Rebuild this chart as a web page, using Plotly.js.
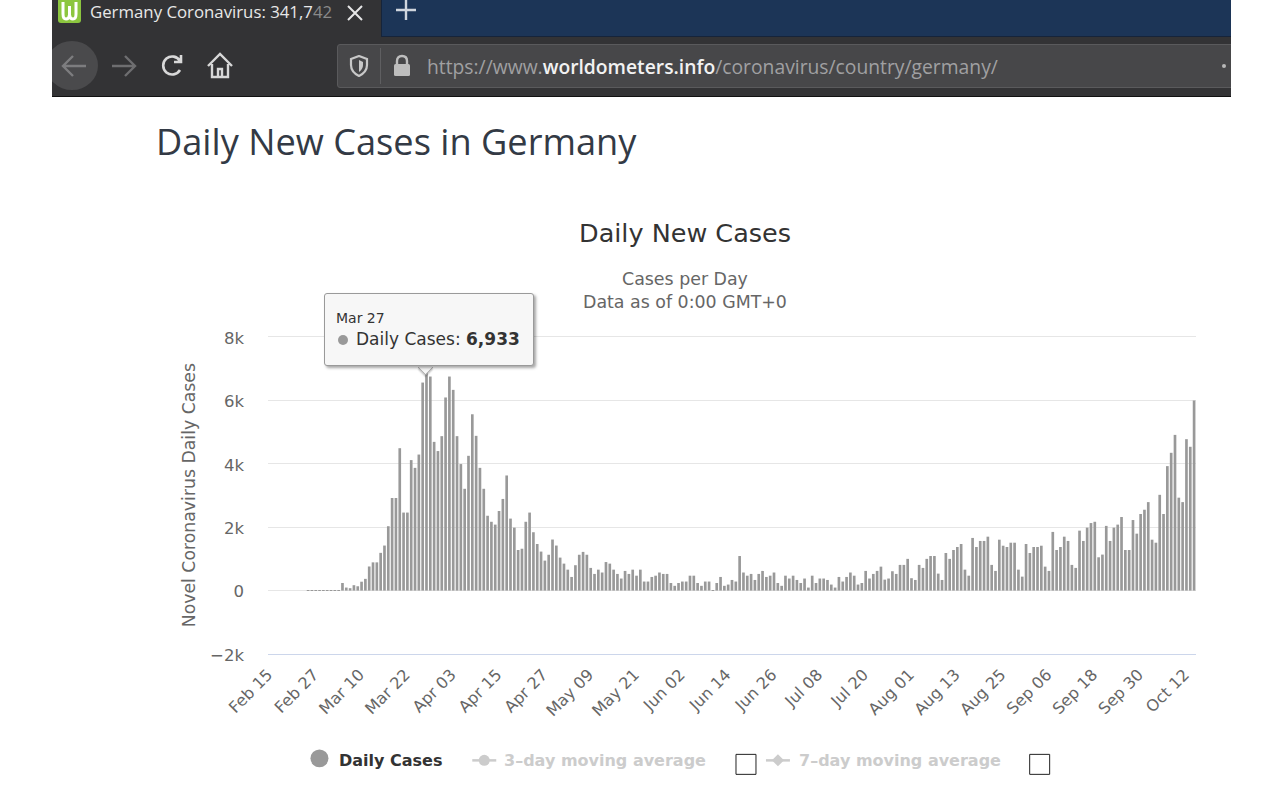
<!DOCTYPE html>
<html>
<head>
<meta charset="utf-8">
<script src="https://cdn.plot.ly/plotly-3.0.1.min.js"></script>
<style>
html,body{margin:0;padding:0;background:#fff;overflow:hidden;width:1284px;height:792px}
#chart{position:absolute;left:0;top:0;width:1284px;height:792px}
.abs{position:absolute}
#chrome{position:absolute;left:52px;top:0;width:1179px;height:97px;background:#333335;overflow:hidden;border-bottom:1px solid #111;box-sizing:border-box}
#newtab{position:absolute;left:329px;top:0;width:850px;height:36px;background:#1c3557;border-bottom:1px solid #16243a;border-left:1px solid #16243a}
#urlbar{position:absolute;left:285px;top:44px;width:900px;height:44px;background:#474749;border:1px solid #5a5a5c;border-radius:3px;box-sizing:border-box}
#tabtext{position:absolute;left:38px;top:0;height:24px;font:16.8px/24px "Open Sans",sans-serif;color:#e8e8e8;white-space:nowrap}
#tabtext .fade{color:#8a8a8a}
#url{position:absolute;left:375px;top:53px;font:19.3px/27px "Open Sans",sans-serif;color:#a0a0a2;white-space:nowrap}
#url b{font-weight:600;color:#f2f2f2}
#heading{position:absolute;left:156px;top:116px;font:36.2px/50px "Open Sans",sans-serif;color:#333a45;white-space:nowrap}
#tip{position:absolute;left:324px;top:293px;width:208px;height:71px;background:#f7f7f7;border:1px solid #9a9a9a;border-radius:3px;box-shadow:2px 2px 3px rgba(0,0,0,.35);font-family:"DejaVu Sans",sans-serif;color:#333}
#caret{position:absolute;left:418px;top:360px;width:14px;height:14px;background:#f7f7f7;transform:rotate(45deg) scale(.72,.72);border-right:1px solid #9a9a9a;border-bottom:1px solid #9a9a9a;box-shadow:2px 2px 2px rgba(0,0,0,.2)}
#tipdate{position:absolute;left:11px;top:15px;font-size:14px;line-height:18px}
#tipdot{position:absolute;left:13px;top:41px;width:10px;height:10px;border-radius:50%;background:#999}
#tipval{position:absolute;left:31px;top:34px;font-size:17px;line-height:22px;white-space:nowrap}
</style>
</head>
<body>
<div id="chart"></div>
<div id="heading">Daily New Cases in Germany</div>
<div id="caret"></div>
<div id="tip"><div id="tipdate"></div><div id="tipdot"></div><div id="tipval"></div></div>

<div id="chrome">
  <div id="newtab"></div>
  <div class="abs" style="left:6px;top:0;width:23px;height:23px;background:#8cc63f;border-radius:0 0 3px 3px"></div>
  <svg class="abs" style="left:6px;top:0" width="23" height="23"><path d="M5 2 V14 Q5 19 8 19 Q11 19 11.5 15 V6 M11.5 15 Q12 19 15 19 Q18 19 18 14 V2" fill="none" stroke="#fff" stroke-width="3"/></svg>
  <div id="tabtext">Germany Coronavirus: 341,7<span class="fade">42</span></div>
  <svg class="abs" style="left:294px;top:4px" width="18" height="18"><path d="M2 2 L16 16 M16 2 L2 16" stroke="#e6e6e6" stroke-width="2"/></svg>
  <svg class="abs" style="left:342px;top:0" width="24" height="22"><path d="M12 0 V20 M2 10 H22" stroke="#d0d6de" stroke-width="2.4"/></svg>
  <div class="abs" style="left:-6px;top:41px;width:52px;height:49px;border-radius:50%;background:#4a4a4c"></div>
  <svg class="abs" style="left:8px;top:53px" width="28" height="26"><path d="M26 13 H3 M13 3 L3 13 L13 23" fill="none" stroke="#7d7d7f" stroke-width="2.4"/></svg>
  <svg class="abs" style="left:59px;top:53px" width="28" height="26"><path d="M1 13 H24 M14 3 L24 13 L14 23" fill="none" stroke="#6e6e70" stroke-width="2.4"/></svg>
  <svg class="abs" style="left:108px;top:53px" width="26" height="26"><path d="M20 17 A9 9 0 1 1 20 8 M21 2 V9 H14" fill="none" stroke="#d8d8d8" stroke-width="2.6"/></svg>
  <svg class="abs" style="left:155px;top:52px" width="26" height="28"><path d="M1 14 L13 2 L25 14 M5 12 V25 H21 V12 M11 25 V17 H15 V25" fill="none" stroke="#d8d8d8" stroke-width="2.4"/></svg>
  <div id="urlbar"></div>
  <svg class="abs" style="left:297px;top:55px" width="20" height="22"><path d="M10 1 L18 4 V10 Q18 17 10 21 Q2 17 2 10 V4 Z" fill="none" stroke="#c8c8c8" stroke-width="2.2"/><path d="M10 5 L14 7 V10 Q14 14 10 17 Z" fill="#c8c8c8"/></svg>
  <div class="abs" style="left:328px;top:48px;width:1px;height:36px;background:#5f5f61"></div>
  <svg class="abs" style="left:340px;top:54px" width="20" height="24"><path d="M5 10 V7 Q5 2 10 2 Q15 2 15 7 V10" fill="none" stroke="#bdbdbd" stroke-width="2.4"/><rect x="2" y="10" width="16" height="12" rx="1.5" fill="#bdbdbd"/></svg>
  <div id="url">https://www.<b>worldometers.info</b>/coronavirus/country/germany/</div>
  <div class="abs" style="left:1170px;top:64px;width:4px;height:4px;border-radius:50%;background:#b8b8b8"></div>
</div>

<script>
const monthNames = ['Feb','Mar','Apr','May','Jun','Jul','Aug','Sep','Oct'];
const monthFirst = [15,1,1,1,1,1,1,1,1];
const monthLast  = [29,31,30,31,30,31,31,30,14];
const categories = [];
monthNames.forEach((m,k)=>{for(let d=monthFirst[k];d<=monthLast[k];d++)categories.push(m+' '+String(d).padStart(2,'0'));});

const dailyCases = [
0,0,0,0,0,0,0,0,0,0,
2,1,10,4,6,8,5,12,15,
240,95,75,170,136,280,370,760,890,890,
1190,1420,2030,2920,2920,4490,2460,2460,4115,3870,
4290,6560,6933,6750,4690,4400,4870,6090,6750,6330,
4870,3990,3210,4250,5560,4880,3870,3210,2360,2170,
2080,2510,2890,3630,2270,1985,1280,1320,2170,2460,
1840,1470,1230,945,1130,1610,1420,1040,850,660,
430,800,1130,1220,1130,715,525,660,570,900,
850,660,525,380,620,525,660,470,660,285,
285,430,470,570,525,525,240,150,240,285,
285,470,470,240,150,285,285,10,240,430,
150,190,335,285,1090,570,470,525,335,525,
620,430,470,570,240,150,470,380,470,335,
240,380,95,470,240,380,380,335,190,95,
430,285,430,570,470,190,240,620,380,525,
620,755,345,380,610,525,810,810,1000,390,
335,810,715,1000,1090,1090,535,335,1185,1000,
1280,1375,1470,660,470,1660,1375,1565,1565,1700,
810,620,1605,1415,1375,1510,1510,660,440,1470,
1185,1375,1375,1415,755,620,1850,1280,1375,1700,
1565,810,715,1890,1565,1985,2130,2170,1050,1135,
2040,1565,1985,2080,2320,1280,1280,2225,1795,2415,
2550,2790,1605,1510,3020,2415,3925,4345,4910,2930,
2790,4775,4535,5995];

const xTickLabels = ['Feb 15','Feb 27','Mar 10','Mar 22','Apr 03','Apr 15','Apr 27','May 09','May 21','Jun 02','Jun 14','Jun 26','Jul 08','Jul 20','Aug 01','Aug 13','Aug 25','Sep 06','Sep 18','Sep 30','Oct 12'];
const yTickValues = [-2000,0,2000,4000,6000,8000];
const yTickLabels = ['\u22122k','0','2k','4k','6k','8k'];
const tooltipIndex = categories.indexOf('Mar 27');

document.getElementById('tipdate').textContent = categories[tooltipIndex];
document.getElementById('tipval').innerHTML = 'Daily Cases: <b>' + dailyCases[tooltipIndex].toLocaleString('en-US') + '</b>';

const W=1284,H=792;
const PL=267.5,PR=87.5,PT=335.1,PB=137.5;
const PW=W-PL-PR,PH=H-PT-PB;
const px=x=>(x-PL)/PW, py=y=>(H-PB-y)/PH;
const FONT='"DejaVu Sans", sans-serif';

function legendText(x,text,color){
  return {xref:'paper',yref:'paper',x:px(x),y:py(761),xanchor:'left',yanchor:'middle',showarrow:false,
    text:'<b>'+text+'</b>',font:{family:FONT,size:16,color}};
}
function circle(cx,cy,r,color){
  return {type:'circle',xref:'paper',yref:'paper',x0:px(cx-r),x1:px(cx+r),y0:py(cy+r),y1:py(cy-r),fillcolor:color,line:{width:0},layer:'above'};
}
function hline(x0,x1,y,color,w){
  return {type:'line',xref:'paper',yref:'paper',x0:px(x0),x1:px(x1),y0:py(y),y1:py(y),line:{color,width:w},layer:'above'};
}
function box(x0,y0,x1,y1){
  return {type:'rect',xref:'paper',yref:'paper',x0:px(x0),x1:px(x1),y0:py(y1),y1:py(y0),line:{color:'#222',width:1},fillcolor:'#fff',layer:'above'};
}
function diamond(cx,cy,r,color){
  return {type:'path',xref:'paper',yref:'paper',
    path:`M ${px(cx-r)} ${py(cy)} L ${px(cx)} ${py(cy-r)} L ${px(cx+r)} ${py(cy)} L ${px(cx)} ${py(cy+r)} Z`,
    fillcolor:color,line:{width:0},layer:'above'};
}

const traces=[{type:'bar',x:categories,y:dailyCases,name:'Daily Cases',marker:{color:'#999999',line:{width:0}},hoverinfo:'x+y',showlegend:false}];

const layout={
  width:W,height:H,showlegend:false,
  paper_bgcolor:'rgba(0,0,0,0)',plot_bgcolor:'rgba(0,0,0,0)',
  margin:{l:PL,r:PR,t:PT,b:PB,pad:0},
  bargap:0.3,
  font:{family:FONT,color:'#666'},
  title:{text:'Daily New Cases',font:{family:FONT,size:25.5,color:'#333'},xref:'paper',x:px(685),xanchor:'center',yref:'container',y:1-233.5/H,yanchor:'middle'},
  xaxis:{type:'category',categoryorder:'array',categoryarray:categories,range:[-0.5,242.5],
    tickmode:'array',tickvals:xTickLabels,ticktext:xTickLabels,tickangle:-45,ticks:'',ticklabelstandoff:4,ticklabelshift:-2,
    tickfont:{family:FONT,size:16,color:'#666'},showgrid:false,showline:true,linecolor:'#ccd6eb',linewidth:1,zeroline:false,automargin:false},
  yaxis:{range:[-2000,8060],tickmode:'array',tickvals:yTickValues,ticktext:yTickLabels,ticks:'',ticklabelshift:1,
    tickfont:{family:FONT,size:16.5,color:'#666'},gridcolor:'#e6e6e6',gridwidth:1,zeroline:false,showline:false,automargin:false,ticklabelstandoff:23},
  annotations:[
    {xref:'paper',yref:'paper',x:px(188),y:py(496),xanchor:'center',yanchor:'middle',showarrow:false,textangle:-90,
      text:'Novel Coronavirus Daily Cases',font:{family:FONT,size:17.3,color:'#666'}},
    {xref:'paper',yref:'paper',x:px(685),y:py(291),xanchor:'center',yanchor:'middle',showarrow:false,align:'center',
      text:'Cases per Day<br>Data as of 0:00 GMT+0',font:{family:FONT,size:17.4,color:'#666'}},
    legendText(337,'Daily Cases','#333'),
    legendText(502,'3\u2013day moving average','#cccccc'),
    legendText(797,'7\u2013day moving average','#cccccc')
  ],
  shapes:[
    circle(319,759,9,'#999999'),
    hline(472,496,761,'#cccccc',2.5),circle(484,761,5.5,'#cccccc'),
    hline(766,790,761,'#cccccc',2.5),diamond(778,761,6,'#cccccc'),
    box(736,755,756,775),box(1030,755,1050,775)
  ]
};
Plotly.newPlot('chart',traces,layout,{displayModeBar:false,responsive:false});
</script>
</body>
</html>
